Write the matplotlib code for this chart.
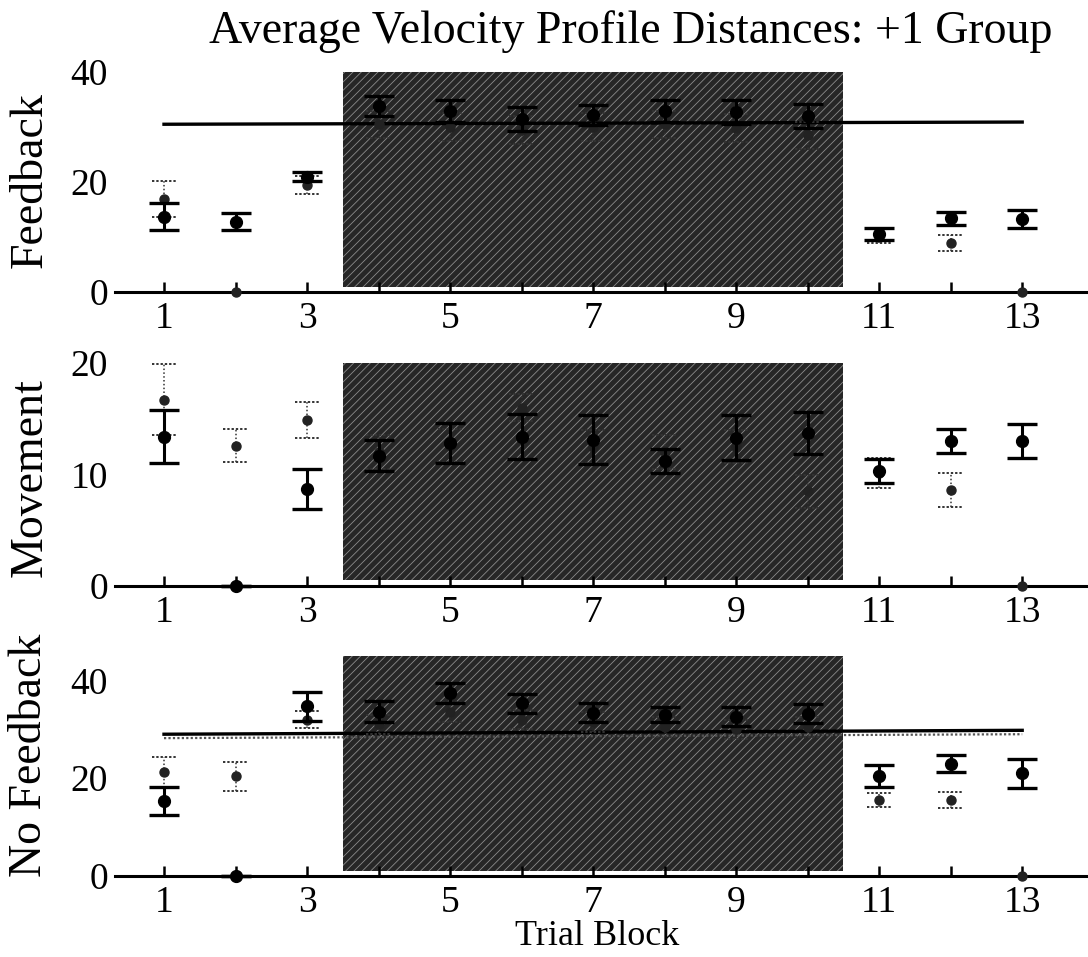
import numpy as np
import matplotlib
matplotlib.use("Agg")
import matplotlib.pyplot as plt

plt.rcParams['font.family'] = ['Liberation Serif', 'DejaVu Serif']
plt.rcParams['hatch.linewidth'] = 0.6

blocks = np.arange(1, 14)
odd_labels = ['1', '', '3', '', '5', '', '7', '', '9', '', '11', '', '13']

# Feedback panel
fb_solid = [13.7, 12.8, 21.0, 33.8, 33.0, 31.5, 32.2, 33.0, 32.8, 32.0, 10.6, 13.4, 13.3]
fb_solid_err = [2.45, 1.5, 0.9, 1.8, 2.0, 2.2, 1.8, 2.0, 2.2, 2.2, 1.1, 1.2, 1.65]
fb_dot = [16.9, 0.0, 19.5, 30.5, 30.0, 29.5, 30.0, 30.5, 29.8, 28.5, 10.2, 8.9, 0.0]
fb_dot_err = [3.3, 0.0, 1.6, 2.5, 2.5, 2.5, 2.5, 2.5, 2.5, 2.5, 1.3, 1.4, 0.0]
fb_line_solid = [30.5, 30.9]
fb_line_dot = None

# Movement panel
mv_solid = [13.4, 0.0, 8.7, 11.7, 12.8, 13.4, 13.1, 11.2, 13.3, 13.7, 10.3, 13.0, 13.0]
mv_solid_err = [2.4, 0.0, 1.8, 1.4, 1.8, 2.0, 2.2, 1.1, 2.0, 1.9, 1.05, 1.1, 1.55]
mv_dot = [16.7, 12.6, 14.9, 12.0, 12.6, 16.0, 12.5, 12.0, 12.5, 8.5, 10.1, 8.6, 0.0]
mv_dot_err = [3.2, 1.5, 1.6, 1.5, 1.5, 1.2, 1.5, 1.5, 1.5, 1.5, 1.35, 1.55, 0.0]

# No Feedback panel
nf_solid = [15.4, 0.0, 34.7, 33.6, 37.4, 35.3, 33.4, 33.0, 32.6, 33.2, 20.5, 23.0, 21.0]
nf_solid_err = [2.9, 0.0, 2.9, 2.2, 2.0, 1.9, 1.9, 1.6, 1.9, 2.0, 2.2, 1.7, 3.0]
nf_dot = [21.2, 20.4, 32.0, 31.0, 33.5, 32.0, 31.5, 30.5, 30.0, 30.5, 15.5, 15.5, 0.0]
nf_dot_err = [3.1, 3.0, 1.8, 2.0, 2.0, 2.0, 2.0, 2.0, 2.0, 2.0, 1.4, 1.6, 0.0]
nf_line_solid = [29.0, 29.8]
nf_line_dot = [28.2, 29.0]

panel_labels = ['Feedback', 'Movement', 'No Feedback']
ylims = [(0, 40), (0, 20), (0, 45)]
yticks = [[0, 20, 40], [0, 10, 20], [0, 20, 40]]
shade_range = (3.5, 10.5)

W, H = 1088, 957
fig = plt.figure(figsize=(W / 100, H / 100), dpi=100)

def frac_box(left_px, top_px, bottom_px, right_px=W):
    return [left_px / W, 1 - bottom_px / H, (right_px - left_px) / W, (bottom_px - top_px) / H]

boxes = [frac_box(115, 72, 292), frac_box(115, 363, 586), frac_box(115, 656, 876)]
label_y = [180, 478, 755]

data = [
    (fb_solid, fb_solid_err, fb_dot, fb_dot_err, fb_line_solid, fb_line_dot),
    (mv_solid, mv_solid_err, mv_dot, mv_dot_err, None, None),
    (nf_solid, nf_solid_err, nf_dot, nf_dot_err, nf_line_solid, nf_line_dot),
]

cap_half = 0.19

for i, (box, (s, se, d, de, ls, ld)) in enumerate(zip(boxes, data)):
    ax = fig.add_axes(box)
    ax.set_xlim(0.315, 13.92)
    ax.set_ylim(*ylims[i])
    ax.axvspan(shade_range[0], shade_range[1], ymin=0.025, ymax=1.0,
               facecolor='#262626', edgecolor='#8c8c8c', hatch='////', linewidth=0, zorder=0)
    if ls is not None:
        ax.plot([blocks[0], blocks[-1]], ls, color='black', lw=2.4, zorder=2)
    if ld is not None:
        ax.plot([blocks[0], blocks[-1]], ld, color='#555555', lw=1.6, ls=(0, (1, 1)), zorder=2)

    d_arr = np.array(d)
    de_arr = np.array(de)
    # dotted series: dotted stems and dotted caps
    has_err = de_arr > 0
    ax.vlines(blocks[has_err], (d_arr - de_arr)[has_err], (d_arr + de_arr)[has_err],
              colors='#333333', linewidth=1.1, linestyles=(0, (1, 1.5)), zorder=3)
    for sign in (-1, 1):
        ax.hlines((d_arr + sign * de_arr)[has_err], blocks[has_err] - cap_half * 0.9,
                  blocks[has_err] + cap_half * 0.9, colors='#333333', linewidth=1.4,
                  linestyles=(0, (1.2, 1)), zorder=3)
    ax.plot(blocks, d_arr, 'o', color='#222222', ms=6.5, zorder=3, clip_on=False)

    # solid series
    ax.errorbar(blocks, s, yerr=se, fmt='o', color='black', ms=8.5,
                ecolor='black', elinewidth=2.2, capsize=11, capthick=2.4, zorder=4, clip_on=False)
    for sp in ['top', 'right', 'left']:
        ax.spines[sp].set_visible(False)
    ax.spines['bottom'].set_linewidth(2.2)
    ax.set_xticks(blocks)
    ax.set_xticklabels(odd_labels)
    ax.tick_params(axis='x', direction='in', length=7, width=1.8, labelsize=27, pad=7)
    ax.set_yticks(yticks[i])
    ax.tick_params(axis='y', length=0, labelsize=27, pad=5)
    fig.text(30 / W, 1 - label_y[i] / H, panel_labels[i], rotation=90, fontsize=33,
             ha='center', va='center')

fig.text(631 / W, 1 - 32 / H, 'Average Velocity Profile Distances: +1 Group', fontsize=33,
         ha='center', va='center')
fig.text(597 / W, 1 - 945 / H, 'Trial Block', fontsize=26, ha='center', va='baseline')

fig.savefig('out.png', dpi=100)
